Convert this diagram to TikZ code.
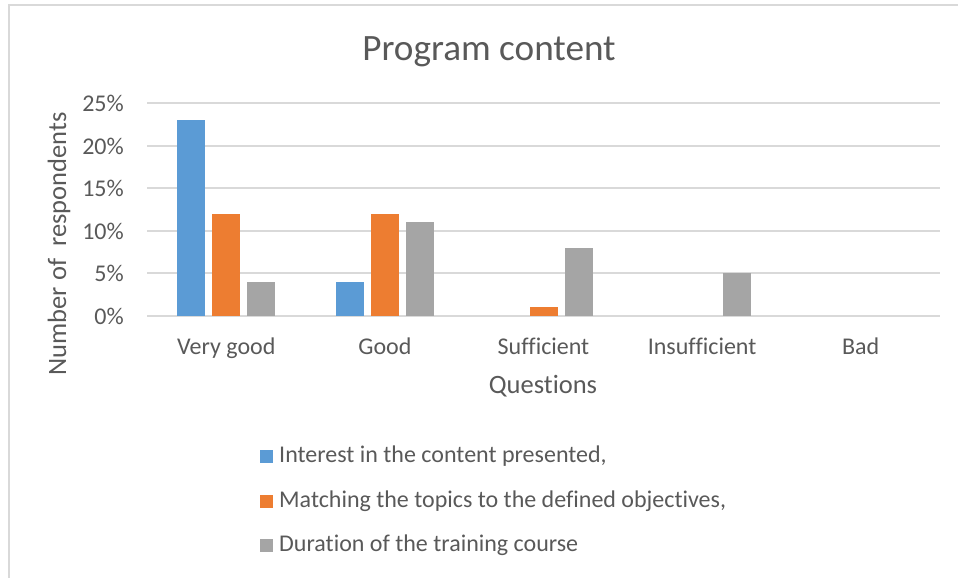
\documentclass[tikz,border=0pt]{standalone}
\usepackage{fontspec}
\setmainfont{Carlito}[Ligatures={NoCommon}]
\usepackage{tikz}
\usepackage{xcolor}

\definecolor{serA}{HTML}{5B9BD5}
\definecolor{serB}{HTML}{ED7D31}
\definecolor{serC}{HTML}{A5A5A5}
\definecolor{txtgray}{HTML}{595959}
\definecolor{gridgray}{HTML}{D9D9D9}

\tikzset{
    ticklbl/.style={text=txtgray, font=\fontsize{24}{28}\selectfont, inner sep=0pt},
    axlbl/.style={text=txtgray, font=\fontsize{26.5}{31}\selectfont, inner sep=0pt},
    gridln/.style={gridgray, line width=2pt},
}

\begin{document}
\begin{tikzpicture}[x=1pt, y=-1pt]
    \useasboundingbox (0,0) rectangle (958,578);

    % Chart frame
    \draw[gridgray, line width=2pt] (958,5) -- (8.5,5) -- (8.5,578);

    % Title
    \node[text=txtgray, font=\fontsize{37.2}{44}\selectfont, inner sep=0pt, anchor=base] (title) at (489,60) {Program content};

    % Gridlines and tick labels
    \draw[gridln] (147,315.7) -- (940,315.7);
    \draw[gridln] (147,273.2) -- (940,273.2);
    \draw[gridln] (147,230.8) -- (940,230.8);
    \draw[gridln] (147,188.3) -- (940,188.3);
    \draw[gridln] (147,145.9) -- (940,145.9);
    \draw[gridln] (147,103.4) -- (940,103.4);
    \node[ticklbl, anchor=base east] (t0) at (124,324) {0\%};
    \node[ticklbl, anchor=base east] (t5) at (124,281.5) {5\%};
    \node[ticklbl, anchor=base east] (t10) at (124,239.1) {10\%};
    \node[ticklbl, anchor=base east] (t15) at (124,196.6) {15\%};
    \node[ticklbl, anchor=base east] (t20) at (124,154.2) {20\%};
    \node[ticklbl, anchor=base east] (t25) at (124,111.7) {25\%};

    % Very good
    \fill[serA] (177.3,315.7) rectangle (205.3,120.4);
    \fill[serB] (212.3,315.7) rectangle (240.3,213.8);
    \fill[serC] (247.3,315.7) rectangle (275.3,281.7);

    % Good
    \fill[serA] (335.9,315.7) rectangle (363.9,281.7);
    \fill[serB] (370.9,315.7) rectangle (398.9,213.8);
    \fill[serC] (405.9,315.7) rectangle (433.9,222.3);

    % Sufficient
    \fill[serB] (529.5,315.7) rectangle (557.5,307.2);
    \fill[serC] (564.5,315.7) rectangle (592.5,247.8);

    % Insufficient
    \fill[serC] (723.1,315.7) rectangle (751.1,273.2);

    % Category labels
    \node[ticklbl, anchor=base] (vgood) at (226.3,354) {Very good};
    \node[ticklbl, anchor=base] (good) at (384.9,354) {Good};
    \node[ticklbl, anchor=base] (suff) at (543.5,354) {Sufficient};
    \node[ticklbl, anchor=base] (insuff) at (702.1,354) {Insufficient};
    \node[ticklbl, anchor=base] (bad) at (860.7,354) {Bad};

    % Axis titles
    \node[axlbl, anchor=base] (xtitle) at (543,393) {Questions};
    \node[axlbl, rotate=90] (ytitle) at (59,244) {Number of\ \ respondents};

    % Legend
    \fill[serA] (260,450) rectangle (273,463);
    \node[ticklbl, anchor=west] (legA) at (279,456.5) {Interest in the content presented,};
    \fill[serB] (260,494.5) rectangle (273,507.5);
    \node[ticklbl, anchor=west] (legB) at (279,501) {Matching the topics to the defined objectives,};
    \fill[serC] (260,538.5) rectangle (273,551.5);
    \node[ticklbl, anchor=west] (legC) at (279,545) {Duration of the training course};
\end{tikzpicture}
\end{document}
